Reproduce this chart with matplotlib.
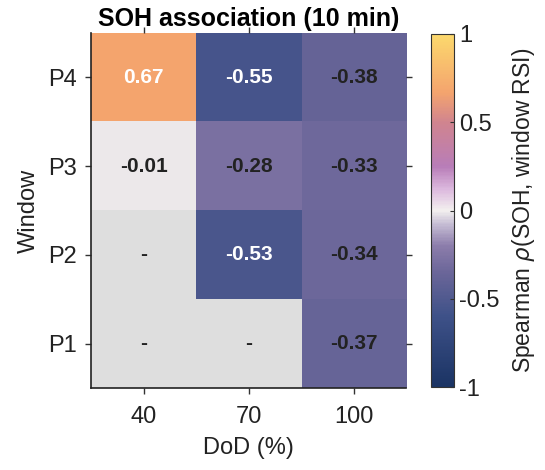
import numpy as np
import matplotlib.pyplot as plt
from matplotlib.colors import LinearSegmentedColormap

plt.rcParams['font.family'] = ['Liberation Sans', 'DejaVu Sans']

# Spearman rho between SOH and window RSI, rows P1..P4, columns DoD
dod = ['40', '70', '100']
windows = ['P1', 'P2', 'P3', 'P4']
rho = np.array([
    [np.nan, np.nan, -0.37],
    [np.nan, -0.53, -0.34],
    [-0.01, -0.28, -0.33],
    [0.67, -0.55, -0.38],
])

nodes = [(-1.0, '#1a3363'), (-0.6, '#3e5188'), (-0.35, '#6b6699'),
         (-0.2, '#8c7dab'), (-0.08, '#c4bbd3'), (0.0, '#f3f0ef'),
         (0.12, '#dcb9de'), (0.25, '#b87db8'), (0.5, '#d0848f'),
         (0.67, '#f4a46e'), (1.0, '#fcd96d')]
cmap = LinearSegmentedColormap.from_list(
    'soh', [((v + 1) / 2, c) for v, c in nodes])
cmap.set_bad('#dedede')

fig = plt.figure(figsize=(5.45, 4.7), dpi=100)
ax = fig.add_axes([0.167, 0.174, 0.578, 0.756])
cax = fig.add_axes([0.791, 0.176, 0.042, 0.752])

im = ax.imshow(np.ma.masked_invalid(rho), cmap=cmap, vmin=-1, vmax=1,
               origin='lower', aspect='auto', interpolation='nearest')

for i in range(len(windows)):
    for j in range(len(dod)):
        v = rho[i, j]
        if np.isnan(v):
            txt, col = '-', '#222222'
        else:
            txt = f'{v:.2f}'
            col = 'white' if (v > 0.5 or v < -0.5) else '#222222'
        ax.text(j, i, txt, ha='center', va='center', fontsize=15,
                fontweight='bold', color=col)

ax.set_xticks(range(len(dod)))
ax.set_xticklabels(dod)
ax.set_yticks(range(len(windows)))
ax.set_yticklabels(windows)
ax.tick_params(direction='out', length=4, width=1, color='#333333',
               labelsize=17, labelcolor='#222222', top=True, right=True,
               labeltop=False, labelright=False)
ax.tick_params(axis='x', pad=9)
ax.tick_params(axis='y', pad=6)
for s in ['top', 'right']:
    ax.spines[s].set_visible(False)
for s in ['left', 'bottom']:
    ax.spines[s].set_color('#222222')
    ax.spines[s].set_linewidth(1.2)

ax.set_xlabel('DoD (%)', fontsize=17, color='#222222', labelpad=6)
ax.set_ylabel('Window', fontsize=17, color='#222222', labelpad=6)
ax.set_title('SOH association (10 min)', fontsize=18, fontweight='bold',
             pad=5)

cb = fig.colorbar(im, cax=cax)
cb.set_ticks([-1, -0.5, 0, 0.5, 1])
cb.set_ticklabels(['-1', '-0.5', '0', '0.5', '1'])
cb.ax.tick_params(direction='in', length=3, labelsize=17, color='#333333',
                  labelcolor='#222222')
cb.outline.set_edgecolor('#333333')
cb.set_label(r'Spearman $\rho$(SOH, window RSI)', fontsize=16.5,
             color='#222222', labelpad=8)

fig.savefig('out.png', dpi=100)
